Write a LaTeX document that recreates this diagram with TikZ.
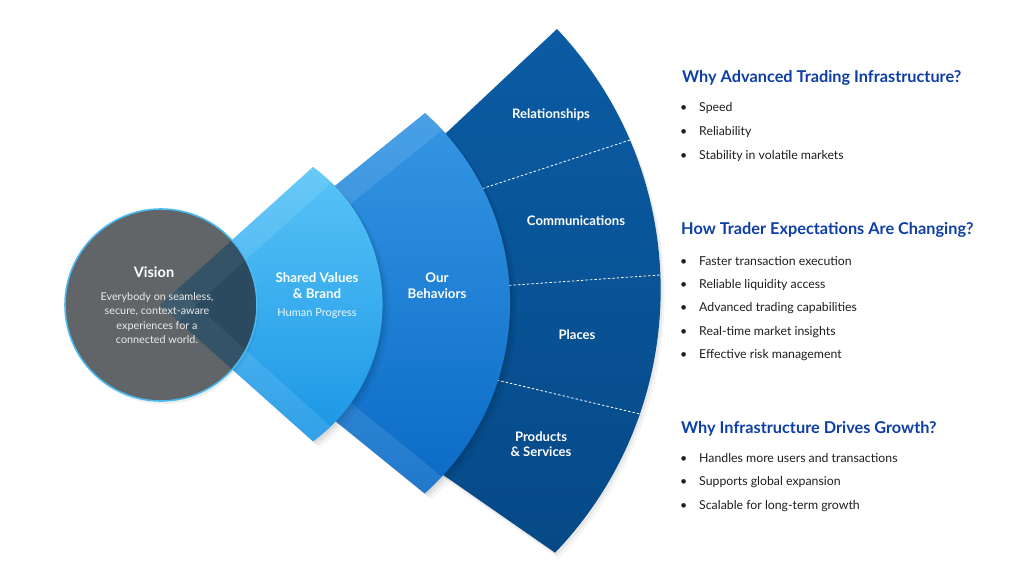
\documentclass[tikz,border=0pt]{standalone}
\usepackage{fontspec}
\setmainfont{Lato}
\usetikzlibrary{calc}
\definecolor{skyA}{HTML}{58C4F7}
\definecolor{skyB}{HTML}{1B96E5}
\definecolor{midA}{HTML}{3596E3}
\definecolor{midB}{HTML}{0A6AC6}
\definecolor{navA}{HTML}{0B5CA4}
\definecolor{navB}{HTML}{064987}
\definecolor{circ}{HTML}{616568}
\definecolor{ovl}{HTML}{2B4A5F}
\definecolor{ring}{HTML}{4CB9F2}
\definecolor{head}{HTML}{0E3FA6}
\definecolor{bodytext}{HTML}{1E1E1E}
\def\pathSa{(160,305) -- (313,167) arc[start angle=-53.8, end angle=53.8, radius=170] -- cycle}
\def\pathSb{(190,303) -- (425,113) arc[start angle=-48.2, end angle=48.3, radius=255] -- cycle}
\def\pathSc{(380,195) -- (557,29) arc[start angle=-43.35, end angle=43.77, radius=380] -- (380,431) -- cycle}
\def\pathCirc{(161,305) circle[radius=96]}
\begin{document}
\begin{tikzpicture}[x=1pt,y=-1pt,
  band/.style={fill=white,fill opacity=0.10},
  seclabel/.style={text=white,font=\bfseries\fontsize{13.1}{15.5}\selectfont,align=center,inner sep=0},
  innerlabel/.style={text=white,font=\bfseries\fontsize{13.3}{16}\selectfont,align=center,inner sep=0},
  heading/.style={text=head,font=\bfseries\fontsize{16.3}{19}\selectfont,anchor=base west,inner sep=0},
  item/.style={text=bodytext,font=\fontsize{12.3}{14}\selectfont,anchor=base west,inner sep=0},
  divider/.style={white,line width=0.8pt,dash pattern=on 2.5pt off 2pt}]
\useasboundingbox (0,0) rectangle (1024,576);
\fill[white] (0,0) rectangle (1024,576);

% ---- back sector (dark) ----
\fill[black,opacity=0.05,shift={(2,3)}] \pathSc;
\fill[black,opacity=0.04,shift={(4,6)}] \pathSc;
\shade[top color=navA,bottom color=navB] \pathSc;

\coordinate (d1a) at (478,190); \coordinate (d1b) at (630,140);
\coordinate (d2a) at (500,286); \coordinate (d2b) at (660,275);
\coordinate (d3a) at (488,378); \coordinate (d3b) at (640,414);
\draw[divider] (d1a) -- (d1b);
\draw[divider] (d2a) -- (d2b);
\draw[divider] (d3a) -- (d3b);

% ---- middle sector ----
\fill[black,opacity=0.06,shift={(2,2)}] \pathSb;
\fill[black,opacity=0.05,shift={(4,4)}] \pathSb;
\fill[black,opacity=0.04,shift={(7,6)}] \pathSb;
\shade[top color=midA,bottom color=midB] \pathSb;
\begin{scope}
  \clip \pathSb;
  \fill[band] (190,303) -- (448.3,94.1) -- (463.4,112.8) -- (205.1,321.7) -- cycle;
  \fill[band] (190,303) -- (447.3,511.9) -- (462.4,493.3) -- (205.1,284.4) -- cycle;
\end{scope}

% ---- front sector ----
\fill[black,opacity=0.06,shift={(2,2)}] \pathSa;
\fill[black,opacity=0.05,shift={(4,4)}] \pathSa;
\fill[black,opacity=0.04,shift={(7,6)}] \pathSa;
\shade[top color=skyA,bottom color=skyB] \pathSa;
\begin{scope}
  \clip \pathSa;
  \fill[band] (160,305) -- (335.3,146.9) -- (351.4,164.7) -- (176.1,322.8) -- cycle;
  \fill[band] (160,305) -- (335.3,463.1) -- (351.4,445.3) -- (176.1,287.2) -- cycle;
\end{scope}

% ---- circle ----
\fill[black,opacity=0.06,shift={(2,3)}] \pathCirc;
\begin{scope}
  \clip \pathCirc;
  \fill[circ] (60,200) rectangle (260,410);
  \begin{scope}
    \clip \pathSa;
    \fill[ovl] (60,200) rectangle (260,410);
    \fill[white,fill opacity=0.05] (160,305) -- (335.3,146.9) -- (351.4,164.7) -- (176.1,322.8) -- cycle;
    \fill[white,fill opacity=0.05] (160,305) -- (335.3,463.1) -- (351.4,445.3) -- (176.1,287.2) -- cycle;
  \end{scope}
\end{scope}
\draw[ring,line width=1.6pt] \pathCirc;

% ---- labels in the fan ----
\node[text=white,font=\bfseries\fontsize{14.5}{17}\selectfont,inner sep=0] (vision) at (154,272) {Vision};
\node[text=white!92!black,font=\fontsize{10.8}{14.6}\selectfont,align=center,inner sep=0] (visiontext) at (157,318)
  {Everybody on seamless,\\secure, context-aware\\experiences for a\\connected world.};
\node[innerlabel] (shared) at (317,286) {Shared Values\\\& Brand};
\node[text=white!90!skyA,font=\fontsize{11}{13}\selectfont,inner sep=0] (human) at (317,314) {Human Progress};
\node[innerlabel] (behav) at (437,286) {Our\\Behaviors};
\node[seclabel] (rel) at (551,115) {Relationships};
\node[seclabel] (comm) at (576,221) {Communications};
\node[seclabel] (places) at (577,335) {Places};
\node[seclabel] (prod) at (541,444) {Products\\\& Services};

% ---- right column ----
\node[heading] (h1) at (682,82) {Why Advanced Trading Infrastructure?};
\node[item] (i11) at (680,111.5) {\hbox to 19pt{•\hfil}Speed};
\node[item] (i12) at (680,135.5) {\hbox to 19pt{•\hfil}Reliability};
\node[item] (i13) at (680,159.5) {\hbox to 19pt{•\hfil}Stability in volatile markets};

\node[heading] (h2) at (681,234) {How Trader Expectations Are Changing?};
\node[item] (i21) at (680,265.5) {\hbox to 19pt{•\hfil}Faster transaction execution};
\node[item] (i22) at (680,288.5) {\hbox to 19pt{•\hfil}Reliable liquidity access};
\node[item] (i23) at (680,311.5) {\hbox to 19pt{•\hfil}Advanced trading capabilities};
\node[item] (i24) at (680,335.5) {\hbox to 19pt{•\hfil}Real-time market insights};
\node[item] (i25) at (680,358.5) {\hbox to 19pt{•\hfil}Effective risk management};

\node[heading] (h3) at (681,433) {Why Infrastructure Drives Growth?};
\node[item] (i31) at (680,462.5) {\hbox to 19pt{•\hfil}Handles more users and transactions};
\node[item] (i32) at (680,485.5) {\hbox to 19pt{•\hfil}Supports global expansion};
\node[item] (i33) at (680,509.5) {\hbox to 19pt{•\hfil}Scalable for long-term growth};
\end{tikzpicture}
\end{document}
